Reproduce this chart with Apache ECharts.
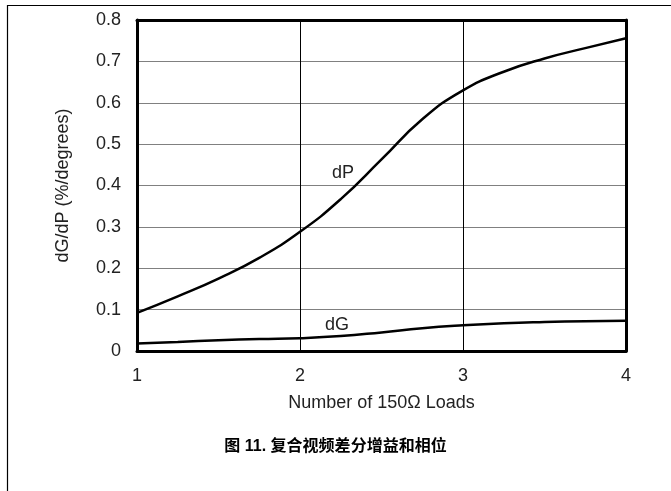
<!DOCTYPE html>
<html>
<head>
<meta charset="utf-8">
<script src="https://cdn.jsdelivr.net/npm/echarts@6/dist/echarts.min.js"></script>
<style>
html,body{margin:0;padding:0;background:#fff;}
#chart{width:671px;height:491px;}
</style>
</head>
<body>
<div id="chart"></div>
<script>
// ---- data ----
var xs  = [1.0, 1.25, 1.5, 1.75, 2.0, 2.25, 2.5, 2.75, 3.0, 3.25, 3.5, 3.75, 4.0];
var dPy = [0.092, 0.132, 0.175, 0.225, 0.288, 0.367, 0.463, 0.560, 0.630, 0.675, 0.707, 0.732, 0.756];
var dGy = [0.018, 0.022, 0.026, 0.029, 0.031, 0.036, 0.045, 0.055, 0.062, 0.067, 0.070, 0.072, 0.073];
var xTicks = ['1', '2', '3', '4'];
var yTicks = ['0', '0.1', '0.2', '0.3', '0.4', '0.5', '0.6', '0.7', '0.8'];
var seriesNames = ['dP', 'dG'];
var labelPos = [[2.264, 0.43], [2.227, 0.063]];
var xName = 'Number of 150\u03A9 Loads';
var yName = 'dG/dP (%/degrees)';
var titleText = '图 11. 复合视频差分增益和相位';

function zip(a, b) { return a.map(function (v, i) { return [v, b[i]]; }); }

var font = 'Liberation Sans, Arial, sans-serif';
var chart = echarts.init(document.getElementById('chart'), null, { renderer: 'canvas' });
var option = {
  animation: false,
  backgroundColor: '#fff',
  title: {
    text: titleText,
    left: 'center',
    top: 434,
    textStyle: { fontFamily: 'Liberation Sans, Noto Sans CJK SC, sans-serif', fontWeight: 'bold', fontSize: 16, color: '#000' }
  },
  grid: { left: 137, right: 45, top: 20, bottom: 140, containLabel: false },
  xAxis: [{
    type: 'value', min: 1, max: 4, interval: 1,
    name: xName, nameLocation: 'middle', nameGap: 43,
    nameTextStyle: { fontFamily: font, fontSize: 18, color: '#222' },
    axisLine: { show: true, onZero: false, lineStyle: { color: '#000', width: 3 } },
    axisTick: { show: false },
    axisLabel: { margin: 16, fontFamily: font, fontSize: 18, color: '#222',
      formatter: function (v) { return xTicks[Math.round(v - 1)]; } },
    splitLine: { show: true, lineStyle: { color: '#000', width: 1 } }
  }, {
    type: 'value', min: 1, max: 4, interval: 1, position: 'top',
    axisLine: { show: true, onZero: false, lineStyle: { color: '#000', width: 3 } },
    axisTick: { show: false }, axisLabel: { show: false }, splitLine: { show: false }
  }],
  yAxis: [{
    type: 'value', min: 0, max: 0.8, interval: 0.1,
    name: yName, nameLocation: 'middle', nameGap: 65, nameRotate: 90,
    nameTextStyle: { fontFamily: font, fontSize: 18, color: '#222' },
    axisLine: { show: true, onZero: false, lineStyle: { color: '#000', width: 3 } },
    axisTick: { show: false },
    axisLabel: { margin: 16, fontFamily: font, fontSize: 18, color: '#222',
      formatter: function (v) { return yTicks[Math.round(v * 10)]; } },
    splitLine: { show: true, lineStyle: { color: '#808080', width: 1 } }
  }, {
    type: 'value', min: 0, max: 0.8, interval: 0.1, position: 'right',
    axisLine: { show: true, onZero: false, lineStyle: { color: '#000', width: 3 } },
    axisTick: { show: false }, axisLabel: { show: false }, splitLine: { show: false }
  }],
  series: [
    { name: seriesNames[0], type: 'line', data: zip(xs, dPy), smooth: 0.5, symbol: 'none',
      lineStyle: { color: '#000', width: 2.5 },
      markPoint: { symbol: 'circle', symbolSize: 0,
        label: { show: true, position: 'inside', formatter: seriesNames[0], fontFamily: font, fontSize: 18, color: '#222' },
        data: [{ coord: labelPos[0] }] } },
    { name: seriesNames[1], type: 'line', data: zip(xs, dGy), smooth: 0.5, symbol: 'none',
      lineStyle: { color: '#000', width: 2.5 },
      markPoint: { symbol: 'circle', symbolSize: 0,
        label: { show: true, position: 'inside', formatter: seriesNames[1], fontFamily: font, fontSize: 18, color: '#222' },
        data: [{ coord: labelPos[1] }] } }
  ],
  graphic: [
    { type: 'line', shape: { x1: 7, y1: 5.5, x2: 671, y2: 5.5 }, style: { stroke: '#000', lineWidth: 1.2 } },
    { type: 'line', shape: { x1: 7.5, y1: 5, x2: 7.5, y2: 491 }, style: { stroke: '#000', lineWidth: 1.2 } }
  ]
};
chart.setOption(option);
</script>
</body>
</html>
